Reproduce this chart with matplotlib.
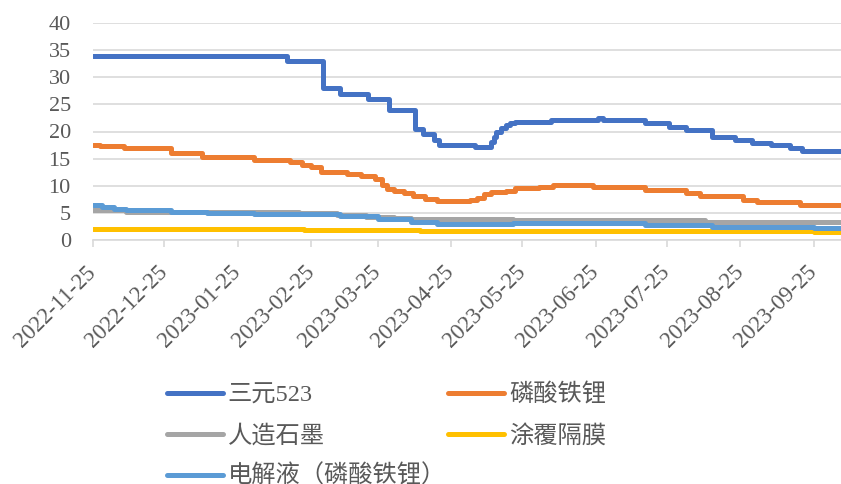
import pandas as pd
import matplotlib.pyplot as plt
import matplotlib.dates as mdates

# series: change points (date, value), drawn as steps
sy_dates = ["2022-11-25", "2023-02-15", "2023-03-02", "2023-03-09", "2023-03-21", "2023-03-30",
            "2023-04-10", "2023-04-13", "2023-04-18", "2023-04-20", "2023-05-05", "2023-05-12",
            "2023-05-13", "2023-05-14", "2023-05-16", "2023-05-18", "2023-05-20", "2023-05-22",
            "2023-06-06", "2023-06-26", "2023-06-28", "2023-07-16", "2023-07-26", "2023-08-02",
            "2023-08-13", "2023-08-23", "2023-08-30", "2023-09-07", "2023-09-15", "2023-09-20",
            "2023-10-07"]
sy_vals = [34, 33, 28, 27, 26, 24, 20.5, 19.6, 18.4, 17.6, 17.1, 18.0,
           19.0, 19.9, 20.6, 21.2, 21.5, 21.7, 22.2, 22.4, 22.2, 21.6, 20.9, 20.2,
           19.0, 18.4, 17.9, 17.5, 17.0, 16.4, 16.4]

lfp_dates = ["2022-11-25", "2022-11-28", "2022-12-08", "2022-12-28", "2023-01-10", "2023-02-01",
             "2023-02-12", "2023-02-16", "2023-02-21", "2023-02-25", "2023-03-01", "2023-03-12",
             "2023-03-18", "2023-03-24", "2023-03-27", "2023-03-29", "2023-04-01", "2023-04-05",
             "2023-04-09", "2023-04-14", "2023-04-19", "2023-05-03", "2023-05-06", "2023-05-09",
             "2023-05-12", "2023-05-18", "2023-05-22", "2023-06-01", "2023-06-07", "2023-06-24",
             "2023-07-16", "2023-08-02", "2023-08-08", "2023-08-26", "2023-09-01", "2023-09-19",
             "2023-10-07"]
lfp_vals = [17.6, 17.4, 17.0, 16.1, 15.35, 14.8,
            14.7, 14.3, 13.9, 13.4, 12.6, 12.2,
            11.8, 11.3, 10.2, 9.4, 9.0, 8.6,
            8.2, 7.6, 7.2, 7.4, 7.8, 8.4,
            8.8, 9.1, 9.5, 9.8, 10.1, 9.7,
            9.2, 8.7, 8.2, 7.4, 7.0, 6.5,
            6.5]

gr_dates = ["2022-11-25", "2022-12-09", "2023-02-01", "2023-02-20", "2023-03-08", "2023-03-20",
            "2023-04-01", "2023-04-08", "2023-05-21", "2023-08-10", "2023-10-07"]
gr_vals = [5.5, 5.2, 5.1, 4.9, 4.6, 4.3, 4.0, 3.9, 3.6, 3.4, 3.4]

sep_dates = ["2022-11-25", "2023-02-22", "2023-04-12", "2023-09-25", "2023-10-07"]
sep_vals = [2.1, 1.85, 1.65, 1.5, 1.5]

el_dates = ["2022-11-25", "2022-11-29", "2022-12-04", "2022-12-09", "2022-12-28", "2023-01-12",
            "2023-02-01", "2023-03-09", "2023-03-25", "2023-04-08", "2023-04-19", "2023-05-21",
            "2023-07-16", "2023-08-13", "2023-09-25", "2023-10-07"]
el_vals = [6.4, 6.1, 5.8, 5.5, 5.2, 5.0, 4.8, 4.4, 3.9, 3.4, 3.0, 3.2, 2.8, 2.4, 2.2, 2.2]

names = ["三元523", "磷酸铁锂", "人造石墨", "涂覆隔膜", "电解液（磷酸铁锂）"]
colors = ["#4472C4", "#ED7D31", "#A5A5A5", "#FFC000", "#5B9BD5"]
series = [(sy_dates, sy_vals), (lfp_dates, lfp_vals), (gr_dates, gr_vals),
          (sep_dates, sep_vals), (el_dates, el_vals)]

tick_dates = pd.date_range("2022-11-01", "2023-09-30", freq="MS") + pd.Timedelta(days=24)

fonts = ["Liberation Serif", "Noto Sans CJK SC", "DejaVu Sans"]
plt.rcParams["font.family"] = fonts
grey_txt = "#595959"

fig = plt.figure(figsize=(8.41, 4.84), dpi=100)
ax = fig.add_axes([93 / 841, 1 - 240 / 484, 1 - 93 / 841, 217 / 484])

lines = []
for (d, v), name, c in zip(series, names, colors):
    ln, = ax.plot(pd.to_datetime(d), v, drawstyle="steps-post", color=c, lw=3.6,
                  label=name, solid_capstyle="round", solid_joinstyle="round")
    lines.append(ln)

ax.set_ylim(0, 40)
ax.set_yticks(range(0, 41, 5))
ax.set_xlim(pd.Timestamp("2022-11-25"), pd.Timestamp("2023-10-06 12:00"))
ax.set_xticks(tick_dates)
ax.xaxis.set_major_formatter(mdates.DateFormatter("%Y-%m-%d"))

ax.grid(axis="y", color="#d9d9d9", lw=1.2)
ax.set_axisbelow(True)
for s in ["top", "right", "left"]:
    ax.spines[s].set_visible(False)
ax.spines["bottom"].set_color("#d9d9d9")
ax.spines["bottom"].set_linewidth(1.2)

ax.tick_params(axis="y", length=0, pad=16, labelsize=16, labelcolor=grey_txt)
ax.tick_params(axis="x", length=5, width=1.2, color="#d9d9d9", labelsize=16.5,
               labelcolor=grey_txt, pad=16)
for lab in ax.get_xticklabels():
    lab.set_rotation(45)
    lab.set_ha("right")
    lab.set_va("center")
    lab.set_rotation_mode("anchor")

order = [0, 2, 4, 1, 3]
fig.legend([lines[i] for i in order], [names[i] for i in order], ncol=2,
           loc="upper left", bbox_to_anchor=(167 / 841, 1 - 384 / 484),
           frameon=False, fontsize=17.5, handlelength=2.3, handletextpad=0.2,
           columnspacing=0.1, labelspacing=0.72, borderpad=0, borderaxespad=0,
           labelcolor=grey_txt)

fig.savefig("out.png", dpi=100)
